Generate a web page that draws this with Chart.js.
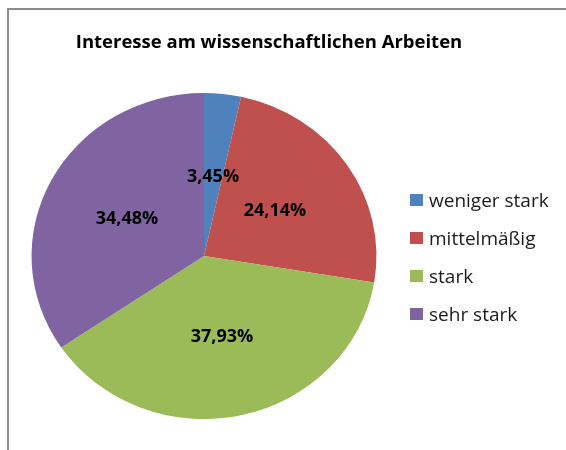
<!DOCTYPE html>
<html>
<head>
<meta charset="utf-8">
<script src="https://cdn.jsdelivr.net/npm/chart.js@4"></script>
<style>
  html, body { margin: 0; padding: 0; background: #fff; }
  #wrap { width: 566px; height: 450px; }
</style>
</head>
<body>
<div id="wrap"><canvas id="pieChart" width="566" height="450"></canvas></div>
<script>
// chart data
const titleText = 'Interesse am wissenschaftlichen Arbeiten';
const categories = ['weniger stark', 'mittelmäßig', 'stark', 'sehr stark'];
const shares = [3.45, 24.14, 37.93, 34.48];
const valueLabels = ['3,45%', '24,14%', '37,93%', '34,48%'];
const sliceColors = ['#4F81BD', '#C0504D', '#9BBB59', '#8064A2'];

const FONT = '"Open Sans", sans-serif';

// frame, title and legend, drawn like the office chart
const decorPlugin = {
    id: 'decor',
    beforeDraw(chart) {
        const ctx = chart.ctx;
        ctx.save();
        ctx.fillStyle = '#fff';
        ctx.fillRect(0, 0, chart.width, chart.height);
        ctx.strokeStyle = '#8c8c8c';
        ctx.lineWidth = 2;
        ctx.beginPath();
        ctx.moveTo(8, chart.height);
        ctx.lineTo(8, 9);
        ctx.lineTo(chart.width, 9);
        ctx.stroke();
        ctx.restore();
    },
    afterDraw(chart) {
        const ctx = chart.ctx;
        ctx.save();
        ctx.fillStyle = '#000';
        ctx.textBaseline = 'alphabetic';
        ctx.textAlign = 'center';
        ctx.font = 'bold 18.5px ' + FONT;
        ctx.fillText(titleText, 269, 48);

        ctx.textAlign = 'left';
        ctx.font = '19px ' + FONT;
        categories.forEach((c, i) => {
            const y = 207 + i * 38;
            ctx.fillStyle = sliceColors[i];
            ctx.fillRect(410, y - 13, 13, 12);
            ctx.fillStyle = '#1a1a1a';
            ctx.fillText(c, 429, y);
        });
        ctx.restore();
    }
};

// the reference pie is slightly wider than tall
const stretchPlugin = {
    id: 'stretch',
    beforeDatasetsDraw(chart) {
        const ctx = chart.ctx;
        const cx = (chart.chartArea.left + chart.chartArea.right) / 2;
        ctx.save();
        ctx.translate(cx, 0);
        ctx.scale(1.058, 1);
        ctx.translate(-cx, 0);
    },
    afterDatasetsDraw(chart) {
        chart.ctx.restore();
    }
};

// percentage labels on the slices
const labelPos = [[213, 177], [275, 211], [222, 337], [127, 219]];
const valueLabelPlugin = {
    id: 'valueLabels',
    afterDatasetsDraw(chart) {
        const ctx = chart.ctx;
        ctx.save();
        ctx.font = 'bold 18px ' + FONT;
        ctx.fillStyle = '#000';
        ctx.textAlign = 'center';
        ctx.textBaseline = 'middle';
        valueLabels.forEach((t, i) => {
            ctx.fillText(t, labelPos[i][0], labelPos[i][1]);
        });
        ctx.restore();
    }
};

const config = {
    type: 'pie',
    data: {
        labels: categories,
        datasets: [{
            data: shares,
            backgroundColor: sliceColors,
            borderWidth: 0
        }]
    },
    options: {
        responsive: false,
        animation: false,
        layout: {
            padding: { top: 93, bottom: 31, left: 41, right: 199 }
        },
        plugins: {
            legend: { display: false },
            title: { display: false },
            tooltip: { enabled: false }
        }
    },
    plugins: [decorPlugin, stretchPlugin, valueLabelPlugin]
};

const pieChart = new Chart(document.getElementById('pieChart'), config);
</script>
</body>
</html>
